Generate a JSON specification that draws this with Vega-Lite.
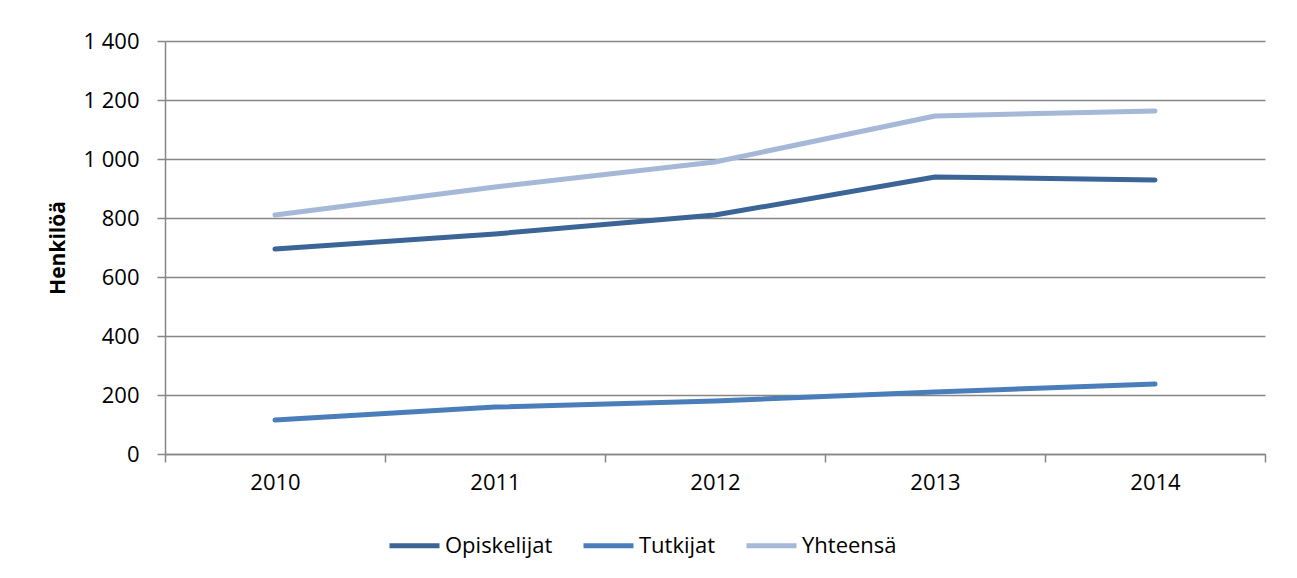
{
  "$schema": "https://vega.github.io/schema/vega-lite/v6.json",
  "autosize": {"type": "none"},
  "width": 1100,
  "height": 413,
  "padding": {"left": 165, "top": 41, "right": 32, "bottom": 124},
  "background": "white",
  "config": {
    "font": "Open Sans",
    "view": {"stroke": null},
    "axis": {"labelFont": "Open Sans", "titleFont": "Open Sans"},
    "legend": {"labelFont": "Open Sans"}
  },
  "data": {
    "values": [
      {"year": "2010", "series": "Opiskelijat", "value": 695},
      {"year": "2011", "series": "Opiskelijat", "value": 746},
      {"year": "2012", "series": "Opiskelijat", "value": 810},
      {"year": "2013", "series": "Opiskelijat", "value": 939},
      {"year": "2014", "series": "Opiskelijat", "value": 929},
      {"year": "2010", "series": "Tutkijat", "value": 115},
      {"year": "2011", "series": "Tutkijat", "value": 159},
      {"year": "2012", "series": "Tutkijat", "value": 180},
      {"year": "2013", "series": "Tutkijat", "value": 210},
      {"year": "2014", "series": "Tutkijat", "value": 237},
      {"year": "2010", "series": "Yhteensä", "value": 810},
      {"year": "2011", "series": "Yhteensä", "value": 905},
      {"year": "2012", "series": "Yhteensä", "value": 990},
      {"year": "2013", "series": "Yhteensä", "value": 1146},
      {"year": "2014", "series": "Yhteensä", "value": 1163}
    ]
  },
  "mark": {"type": "line", "strokeWidth": 5, "strokeCap": "round", "strokeJoin": "round"},
  "encoding": {
    "x": {
      "field": "year",
      "type": "ordinal",
      "scale": {"type": "band", "paddingInner": 0, "paddingOuter": 0},
      "axis": {
        "title": null,
        "labelAngle": 0,
        "labelFontSize": 22,
        "labelColor": "#000000",
        "labelPadding": 10,
        "tickBand": "extent",
        "tickSize": 8,
        "tickColor": "#868686",
        "tickWidth": 1.5,
        "domainColor": "#868686",
        "domainWidth": 1.5,
        "grid": false
      }
    },
    "y": {
      "field": "value",
      "type": "quantitative",
      "scale": {"domain": [0, 1400], "nice": false},
      "axis": {
        "title": "Henkilöä",
        "titleFontSize": 21,
        "titleFontWeight": "bold",
        "titleColor": "#000000",
        "titlePadding": 14,
        "values": [0, 200, 400, 600, 800, 1000, 1200, 1400],
        "labelExpr": "replace(format(datum.value, ','), ',', ' ')",
        "labelFontSize": 22,
        "labelColor": "#000000",
        "labelPadding": 18,
        "tickSize": 8,
        "tickColor": "#868686",
        "tickWidth": 1.5,
        "domainColor": "#868686",
        "domainWidth": 1.5,
        "gridColor": "#868686",
        "gridWidth": 1.5
      }
    },
    "color": {
      "field": "series",
      "type": "nominal",
      "scale": {
        "domain": ["Opiskelijat", "Tutkijat", "Yhteensä"],
        "range": ["#3B6497", "#4A7EBB", "#A5B8D7"]
      },
      "legend": {
        "title": null,
        "orient": "none",
        "legendX": 222,
        "legendY": 477,
        "direction": "horizontal",
        "symbolType": "stroke",
        "symbolStrokeWidth": 5,
        "symbolSize": 2500,
        "labelFontSize": 22,
        "labelColor": "#000000",
        "labelOffset": 3,
        "columnPadding": 20
      }
    }
  }
}
